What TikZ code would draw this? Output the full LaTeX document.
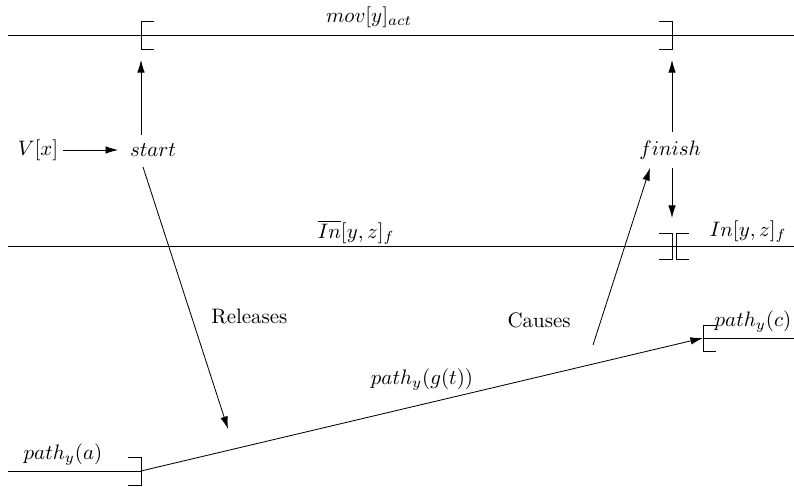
\documentclass[tikz,border=0pt]{standalone}
\usetikzlibrary{arrows.meta, positioning, calc}
\begin{document}
\begin{tikzpicture}[
  x=0.0168cm, y=-0.0168cm,
  >={Latex[length=6pt,width=3.6pt]},
  tline/.style={draw},
  brk/.style={draw, line join=miter},
  ev/.style={inner sep=2pt}
  ]
  \useasboundingbox (0,0) rectangle (794,487);
  % time lines
  \coordinate (topL) at (8,35);   \coordinate (topR) at (794,35);
  \coordinate (midL) at (8,246);  \coordinate (midR) at (794,246);
  \coordinate (botL) at (8,471);  \coordinate (bA) at (141,471);
  \coordinate (bC) at (703,338);  \coordinate (botR) at (794,338);
  \coordinate (sA) at (141,35);   \coordinate (sB) at (672,35);
  \coordinate (mA) at (672,246);  \coordinate (mB) at (676,246);
  \draw[tline] (topL) -- (topR);
  \draw[tline] (midL) -- (midR);
  \draw[tline] (botL) -- (bA);
  \draw[tline] (bC) -- (botR);
  % brackets
  \draw[brk] ([shift={(13,-14)}]sA) -- ++(-13,0) -- ++(0,28) -- ++(13,0);
  \draw[brk] ([shift={(-13,-14)}]sB) -- ++(13,0) -- ++(0,28) -- ++(-13,0);
  \draw[brk] ([shift={(-13,-13)}]mA) -- ++(13,0) -- ++(0,26) -- ++(-13,0);
  \draw[brk] ([shift={(13,-13)}]mB) -- ++(-13,0) -- ++(0,26) -- ++(13,0);
  \draw[brk] ([shift={(-13,-14)}]bA) -- ++(13,0) -- ++(0,28) -- ++(-13,0);
  \draw[brk] ([shift={(13,-13)}]bC) -- ++(-13,0) -- ++(0,26) -- ++(13,0);
  % labels
  \node[ev] (mov) at (369,17) {$mov[y]_{act}$};
  \node[ev] (inb) at (356,232) {$\overline{In}[y,z]_f$};
  \node[ev] (in) at (748,232) {$In[y,z]_f$};
  \node[ev] (pa) at (63,455) {$path_y(a)$};
  \node[ev] (pc) at (753,322) {$path_y(c)$};
  % events
  \node[ev] (vx) at (38,150) {$V[x]$};
  \node[ev] (start) at (153,150) {$start$};
  \node[ev] (finish) at (670,150) {$finish$};
  \coordinate (upA) at (141,60);
  \coordinate (upB) at (672,60);
  \coordinate (dnB) at (672,218);
  \coordinate (relS) at (143,167);
  \coordinate (relE) at (228,429);
  \coordinate (cauS) at (593,345);
  \coordinate (cauE) at (650,168);
  \draw[->, shorten >=3.5pt] (vx) -- (start);
  \draw[->] (start.north -| upA) ++(0,-4) -- (upA);
  \draw[->] (finish.north -| upB) ++(0,-4) -- (upB);
  \draw[->] (finish.south -| dnB) ++(0,4) -- (dnB);
  \draw[->] (relS) -- node[pos=0.57, right=6pt] {Releases} (relE);
  \draw[->] (cauS) -- node[pos=0.14, left=11pt] {Causes} (cauE);
  \draw[->] (bA) -- node[pos=0.5, above=3pt] {$path_y(g(t))$} (bC);
\end{tikzpicture}
\end{document}
